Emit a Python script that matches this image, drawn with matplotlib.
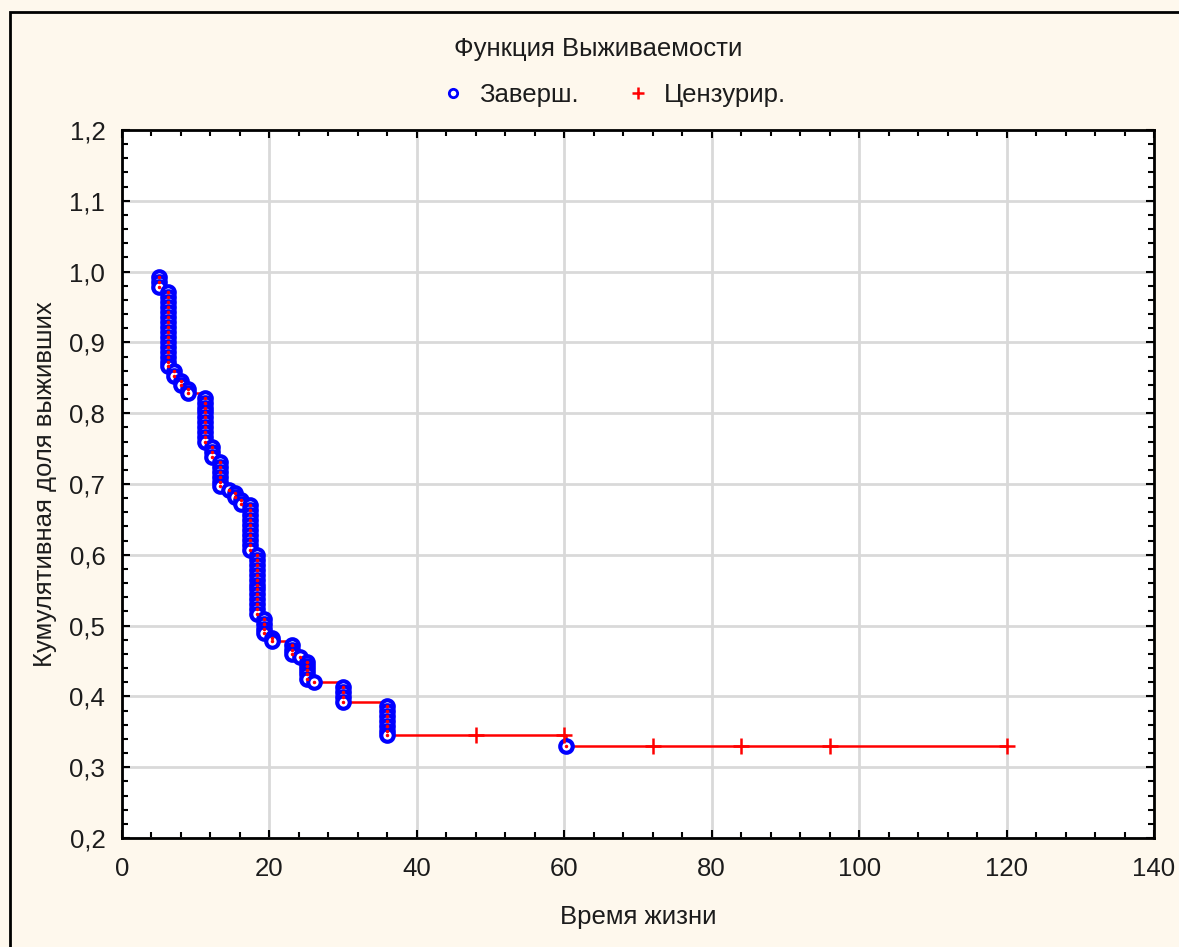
import numpy as np
import matplotlib
matplotlib.use("Agg")
import matplotlib.pyplot as plt
from matplotlib.lines import Line2D
from matplotlib.patches import Rectangle
from matplotlib.ticker import MultipleLocator, FuncFormatter

plt.rcParams['font.family'] = ['Liberation Sans', 'DejaVu Sans']

# completed events: time and survival after each event
event_t = [5.0, 5.0, 5.0,
           6.3, 6.3, 6.3, 6.3, 6.3, 6.3, 6.3, 6.3, 6.3, 6.3, 6.3, 6.3, 6.3, 6.3, 6.3, 6.3,
           7.0, 7.0, 8.0, 8.0, 9.0, 9.0,
           11.3, 11.3, 11.3, 11.3, 11.3, 11.3, 11.3, 11.3, 11.3, 11.3,
           12.2, 12.2, 12.2,
           13.3, 13.3, 13.3, 13.3, 13.3, 13.3,
           14.5, 15.3, 15.3, 16.2, 16.2,
           17.3, 17.3, 17.3, 17.3, 17.3, 17.3, 17.3, 17.3, 17.3, 17.3,
           18.3, 18.3, 18.3, 18.3, 18.3, 18.3, 18.3, 18.3, 18.3, 18.3, 18.3, 18.3, 18.3,
           19.2, 19.2, 19.2, 19.2,
           20.3, 20.3,
           23.0, 23.0, 23.0,
           24.1,
           25.1, 25.1, 25.1, 25.1, 25.1,
           26.0,
           30.0, 30.0, 30.0, 30.0,
           36.0, 36.0, 36.0, 36.0, 36.0, 36.0, 36.0,
           60.3]
event_s = [0.993, 0.986, 0.978,
           0.971, 0.964, 0.957, 0.950, 0.943, 0.936, 0.929, 0.922, 0.915, 0.908, 0.901, 0.894, 0.887, 0.880, 0.873, 0.866,
           0.859, 0.852, 0.846, 0.840, 0.834, 0.829,
           0.822, 0.815, 0.808, 0.801, 0.794, 0.787, 0.780, 0.773, 0.766, 0.760,
           0.752, 0.745, 0.738,
           0.731, 0.724, 0.717, 0.710, 0.703, 0.697,
           0.692, 0.687, 0.682, 0.677, 0.672,
           0.670, 0.663, 0.656, 0.649, 0.642, 0.635, 0.628, 0.621, 0.614, 0.607,
           0.600, 0.593, 0.586, 0.579, 0.572, 0.565, 0.558, 0.551, 0.544, 0.537, 0.530, 0.523, 0.516,
           0.509, 0.502, 0.495, 0.489,
           0.483, 0.478,
           0.472, 0.466, 0.460,
           0.455,
           0.449, 0.443, 0.437, 0.431, 0.425,
           0.420,
           0.413, 0.406, 0.399, 0.392,
           0.386, 0.379, 0.372, 0.365, 0.358, 0.351, 0.345,
           0.330]

# censored observations
cens_t = [48, 60, 72, 84, 96, 120]
cens_s = [0.345, 0.345, 0.330, 0.330, 0.330, 0.330]

start_t, start_s = 5.0, 1.0

bg = '#fef8ed'
txt = '#1c1c1c'
fs = 18.5

fig = plt.figure(figsize=(11.79, 9.47), dpi=100, facecolor=bg)
fig.patches.append(Rectangle((10 / 1179, -0.05), 1.2, 1 - 12 / 947 + 0.05,
                             transform=fig.transFigure, fill=False,
                             edgecolor='black', linewidth=2))

ax = fig.add_axes([122 / 1179, 1 - 838 / 947, (1154 - 122) / 1179, (838 - 130) / 947])
ax.set_facecolor('white')

# step line through all points, sorted by time
pts = sorted([(start_t, start_s)] + list(zip(event_t, event_s)) + list(zip(cens_t, cens_s)),
             key=lambda p: (p[0], -p[1]))
st = [p[0] for p in pts]
ss = [p[1] for p in pts]
ax.step(st, ss, where='post', color='red', linewidth=1.8, zorder=3)

ax.plot(event_t, event_s, 'o', markersize=9, markerfacecolor='white',
        markeredgecolor='blue', markeredgewidth=3, linestyle='none', zorder=4)
ax.plot(event_t, event_s, '.', markersize=3, color='red', linestyle='none', zorder=5)
ax.plot(cens_t, cens_s, '+', markersize=11, markeredgewidth=1.8, color='red',
        linestyle='none', zorder=5)

ax.set_xlim(0, 140)
ax.set_ylim(0.2, 1.2)
ax.xaxis.set_major_locator(MultipleLocator(20))
ax.xaxis.set_minor_locator(MultipleLocator(4))
ax.yaxis.set_major_locator(MultipleLocator(0.1))
ax.yaxis.set_minor_locator(MultipleLocator(0.02))
ax.yaxis.set_major_formatter(FuncFormatter(lambda v, p: ('%.1f' % v).replace('.', ',')))
ax.grid(True, which='major', color='#d9d9d9', linewidth=2, zorder=0)
ax.set_axisbelow(True)
ax.tick_params(which='both', direction='in', top=True, right=True, colors='black',
               labelcolor=txt, labelsize=fs, width=1.5)
ax.tick_params(which='major', length=6)
ax.tick_params(axis='x', which='major', pad=14)
ax.tick_params(axis='y', which='major', pad=12)
ax.tick_params(which='minor', length=4)
for s in ax.spines.values():
    s.set_linewidth(2)

ax.set_xlabel('Время жизни', fontsize=fs, color=txt, labelpad=17)
ax.set_ylabel('Кумулятивная доля выживших', fontsize=fs, color=txt, labelpad=9)

fig.text(598 / 1179, 1 - 49 / 947, 'Функция Выживаемости', ha='center', va='center',
         fontsize=fs, color=txt)
handles = [Line2D([], [], marker='o', linestyle='none', markersize=6, markerfacecolor='white',
                  markeredgecolor='blue', markeredgewidth=2),
           Line2D([], [], marker='+', linestyle='none', markersize=8, markeredgewidth=1.8,
                  color='red')]
fig.legend(handles, ['Заверш.', 'Цензурир.'], loc='center', ncol=2,
           bbox_to_anchor=(613 / 1179, 1 - 95 / 947), frameon=False, fontsize=fs,
           handlelength=1.0, handletextpad=0.5, columnspacing=1.8, labelcolor=txt)

fig.savefig('out.png', dpi=100, facecolor=bg)
